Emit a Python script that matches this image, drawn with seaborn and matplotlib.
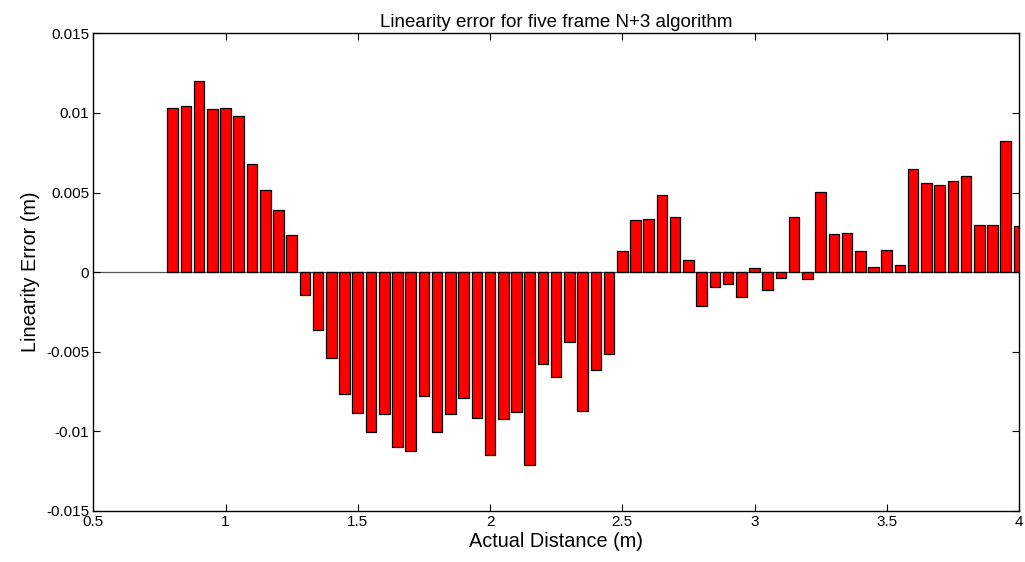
import numpy as np
import pandas as pd
import matplotlib
matplotlib.use("Agg")
import matplotlib.pyplot as plt
import seaborn as sns

distance = [round(0.80 + 0.05 * i, 2) for i in range(65)]
error = [
    0.01033, 0.01043, 0.0120, 0.01022, 0.01033, 0.0098, 0.00679, 0.00518, 0.00388, 0.00231,
    -0.00146, -0.00362, -0.00538, -0.00764, -0.00884, -0.01005, -0.0089, -0.01097, -0.01122, -0.00777,
    -0.01005, -0.0089, -0.00792, -0.00913, -0.01146, -0.00921, -0.0088, -0.0121, -0.00574, -0.00657,
    -0.00436, -0.00873, -0.00616, -0.00511, 0.0013, 0.00325, 0.00335, 0.00486, 0.00344, 0.00078,
    -0.00211, -0.00096, -0.00075, -0.00153, 0.00028, -0.0011, -0.00035, 0.00344, -0.0004, 0.00501,
    0.00239, 0.00248, 0.00132, 0.0003, 0.00141, 0.00047, 0.00645, 0.00559, 0.00547, 0.0057,
    0.00606, 0.00298, 0.00298, 0.00826, 0.00292,
]
xticks = [0.5, 1, 1.5, 2, 2.5, 3, 3.5, 4]
xtick_labels = ["0.5", "1", "1.5", "2", "2.5", "3", "3.5", "4"]
yticks = [-0.015, -0.01, -0.005, 0, 0.005, 0.01, 0.015]
ytick_labels = ["-0.015", "-0.01", "-0.005", "0", "0.005", "0.01", "0.015"]

sns.set_style("white")
plt.rcParams["font.family"] = ["Liberation Sans", "DejaVu Sans"]
plt.rcParams["text.color"] = "black"
plt.rcParams["axes.labelcolor"] = "black"

df = pd.DataFrame({"distance": distance, "error": error})

fig = plt.figure(figsize=(10.25, 5.62), dpi=100)
ax = fig.add_axes([93.3 / 1025, 1 - 511 / 562, (1019 - 93.3) / 1025, (511 - 33.3) / 562])

sns.barplot(data=df, x="distance", y="error", native_scale=True, width=0.8,
            color="#ff0000", saturation=1, edgecolor="black", linewidth=0.9, ax=ax)
ax.axhline(0, color="#555555", lw=0.9, zorder=0.5)

ax.set_xlim(0.5, 4)
ax.set_ylim(-0.015, 0.015)
ax.set_xticks(xticks)
ax.set_xticklabels(xtick_labels)
ax.set_yticks(yticks)
ax.set_yticklabels(ytick_labels)
ax.tick_params(direction="in", length=5, width=0.8, labelsize=11, top=True, right=True,
               left=True, bottom=True, colors="black", labelcolor="black", pad=3)
for s in ax.spines.values():
    s.set_visible(True)
    s.set_color("black")
    s.set_linewidth(1.0)

ax.set_title("Linearity error for five frame N+3 algorithm", fontsize=13.5, pad=4.5, color="black")
ax.set_xlabel("Actual Distance (m)", fontsize=14.3, labelpad=2, color="black")
ax.set_ylabel("Linearity Error (m)", fontsize=14.3, labelpad=4, color="black")

fig.savefig("out.png", dpi=100)
